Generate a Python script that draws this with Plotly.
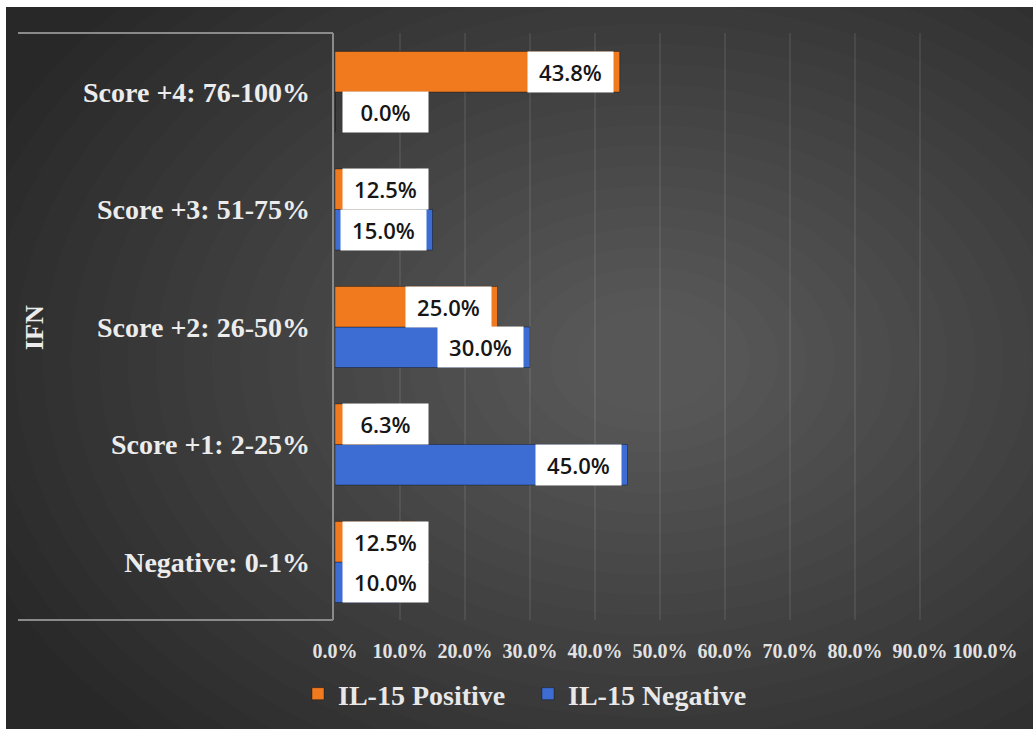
import plotly.graph_objects as go

# IFN expression score groups, bottom to top
categories = [
    "Negative: 0-1%",
    "Score +1: 2-25%",
    "Score +2: 26-50%",
    "Score +3: 51-75%",
    "Score +4: 76-100%",
]
il15_positive = [12.5, 6.3, 25.0, 12.5, 43.8]
il15_negative = [10.0, 45.0, 30.0, 15.0, 0.0]

x_ticks = [0, 10, 20, 30, 40, 50, 60, 70, 80, 90, 100]
x_tick_labels = [f"{t:.1f}%" for t in x_ticks]

ORANGE = "#F27A1E"
BLUE = "#3D6DD2"

W, H = 1033, 729
PL, PR, PT, PB = 335, 985, 33, 620  # plot area in pixels


def px(x):
    return (x - PL) / (PR - PL)


def py(y):
    return (PB - y) / (PB - PT)


fig = go.Figure()

# blue first so that the orange bar sits above it in each group
fig.add_trace(go.Bar(
    y=categories, x=il15_negative, orientation="h", name="IL-15 Negative",
    marker=dict(color=BLUE, line=dict(color="rgba(0,0,0,0.35)", width=1)),
    legendrank=2,
))
fig.add_trace(go.Bar(
    y=categories, x=il15_positive, orientation="h", name="IL-15 Positive",
    marker=dict(color=ORANGE, line=dict(color="rgba(0,0,0,0.35)", width=1)),
    legendrank=1,
))

shapes = []

# radial light spot on the dark background
cx, cy = 650, 360
rx_max, ry_max = 720, 520
n_layers = 24
for i in range(n_layers):
    s = 1.0 - 0.9 * i / (n_layers - 1)
    shapes.append(dict(
        type="circle", xref="paper", yref="paper", layer="below",
        x0=px(cx - rx_max * s), x1=px(cx + rx_max * s),
        y0=py(cy + ry_max * s), y1=py(cy - ry_max * s),
        fillcolor="rgba(255,255,255,0.011)", line=dict(width=0),
    ))

# white edges along left and top
shapes.append(dict(type="rect", xref="paper", yref="paper", layer="below",
                   x0=px(0), x1=px(6), y0=py(H), y1=py(0),
                   fillcolor="white", line=dict(width=0)))
shapes.append(dict(type="rect", xref="paper", yref="paper", layer="below",
                   x0=px(0), x1=px(W), y0=py(7), y1=py(0),
                   fillcolor="white", line=dict(width=0)))

# bracket of the category axis
line_style = dict(color="#8a8a8a", width=2)
shapes.append(dict(type="line", xref="paper", yref="paper", layer="above",
                   x0=px(18), x1=px(333), y0=py(33), y1=py(33), line=line_style))
shapes.append(dict(type="line", xref="paper", yref="paper", layer="above",
                   x0=px(333), x1=px(333), y0=py(33), y1=py(620), line=line_style))
shapes.append(dict(type="line", xref="paper", yref="paper", layer="above",
                   x0=px(18), x1=px(333), y0=py(620), y1=py(620), line=line_style))

annotations = []

# value callouts: white boxes at the inner end of each bar
bar_half = 20.25
for values, shift in ((il15_positive, bar_half), (il15_negative, -bar_half)):
    for cat, v in zip(categories, values):
        if v >= 15:
            pos = dict(x=v, xanchor="right", xshift=-6)
        else:
            pos = dict(x=0, xanchor="left", xshift=7)
        annotations.append(dict(
            y=cat, yshift=shift, xref="x", yref="y", yanchor="middle",
            text=f"{v:.1f}%", showarrow=False,
            font=dict(family="Open Sans", size=22, color="#161616", weight=600),
            bgcolor="white", width=81, height=36, borderpad=2,
            **pos,
        ))

annotations.append(dict(
    x=px(34), y=py(328), xref="paper", yref="paper",
    xanchor="center", yanchor="middle",
    text="IFN", textangle=-90, showarrow=False,
    font=dict(family="Liberation Serif", size=26, color="#ececec", weight="bold"),
))

fig.update_layout(
    width=W, height=H,
    margin=dict(l=PL, r=W - PR, t=PT, b=H - PB, pad=0, autoexpand=False),
    paper_bgcolor="#282828",
    plot_bgcolor="rgba(0,0,0,0)",
    barmode="group",
    bargap=0.31,
    bargroupgap=0,
    shapes=shapes,
    annotations=annotations,
    showlegend=True,
    legend=dict(
        orientation="h", x=px(298), y=py(669), xanchor="left", yanchor="top",
        font=dict(family="Liberation Serif", size=28, color="#e8e8e8", weight="bold"),
        bgcolor="rgba(0,0,0,0)", itemwidth=30,
        entrywidth=185, entrywidthmode="pixels",
    ),
    xaxis=dict(
        range=[0, 100], tickvals=x_ticks, ticktext=x_tick_labels,
        showgrid=True, gridcolor="rgba(255,255,255,0.08)", gridwidth=2,
        zeroline=False, showline=False, ticks="",
        ticklabelstandoff=17,
        tickfont=dict(family="Liberation Serif", size=20, color="#e2e2e2", weight="bold"),
        fixedrange=True,
    ),
    yaxis=dict(
        type="category", categoryorder="array", categoryarray=categories,
        range=[-0.494, 4.502],
        showgrid=False, zeroline=False, showline=False, ticks="",
        ticklabelstandoff=24,
        tickfont=dict(family="Liberation Serif", size=28, color="#ececec", weight="bold"),
        fixedrange=True,
    ),
)

fig.write_html("out.html")
